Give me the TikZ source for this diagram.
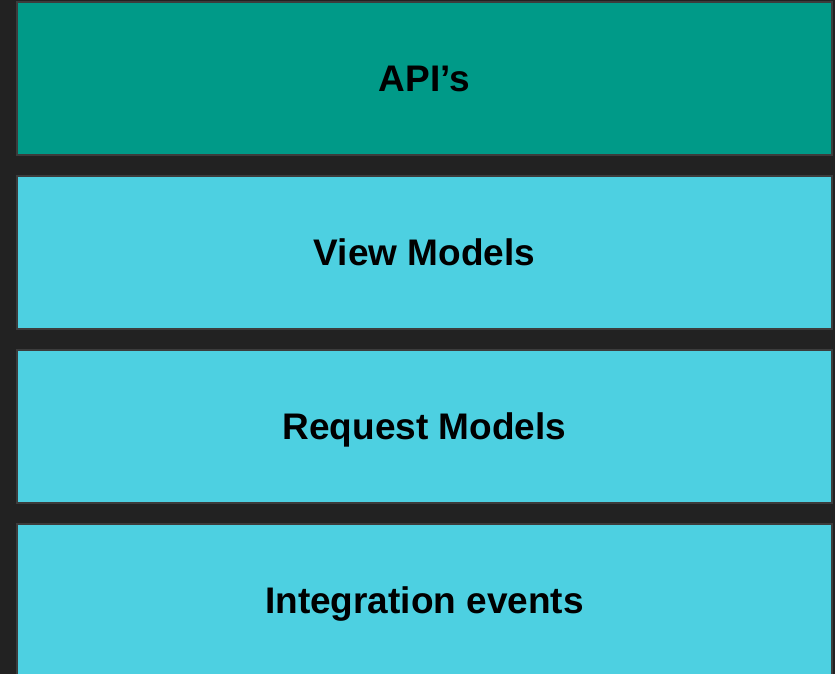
\documentclass[tikz,border=0pt]{standalone}
\usepackage{fontspec}
\setmainfont{Liberation Sans}
\definecolor{pagebg}{HTML}{222222}
\definecolor{edge}{HTML}{3C3C3C}
\definecolor{apiteal}{HTML}{009A88}
\definecolor{layercyan}{HTML}{4DD0E1}
\tikzset{
  layer/.style={draw=edge, line width=2pt, minimum width=815pt, minimum height=153pt,
    inner sep=0pt, anchor=north west, text=black,
    text height=26.5pt, text depth=0pt,
    font=\fontsize{37}{40}\selectfont\bfseries},
}
\begin{document}
\begin{tikzpicture}[x=1pt,y=-1pt]
  \fill[pagebg] (0,0) rectangle (835,674);
  \useasboundingbox (0,0) rectangle (835,674);
  \begin{scope}
    \clip (0,0) rectangle (835,674);
    \node[layer, fill=apiteal]   (api)   at (16,1)   {API’s};
    \node[layer, fill=layercyan] (view)  at (16,175) {View Models};
    \node[layer, fill=layercyan] (req)   at (16,349) {Request Models};
    \node[layer, fill=layercyan] (integ) at (16,523) {Integration events};
  \end{scope}
\end{tikzpicture}
\end{document}
